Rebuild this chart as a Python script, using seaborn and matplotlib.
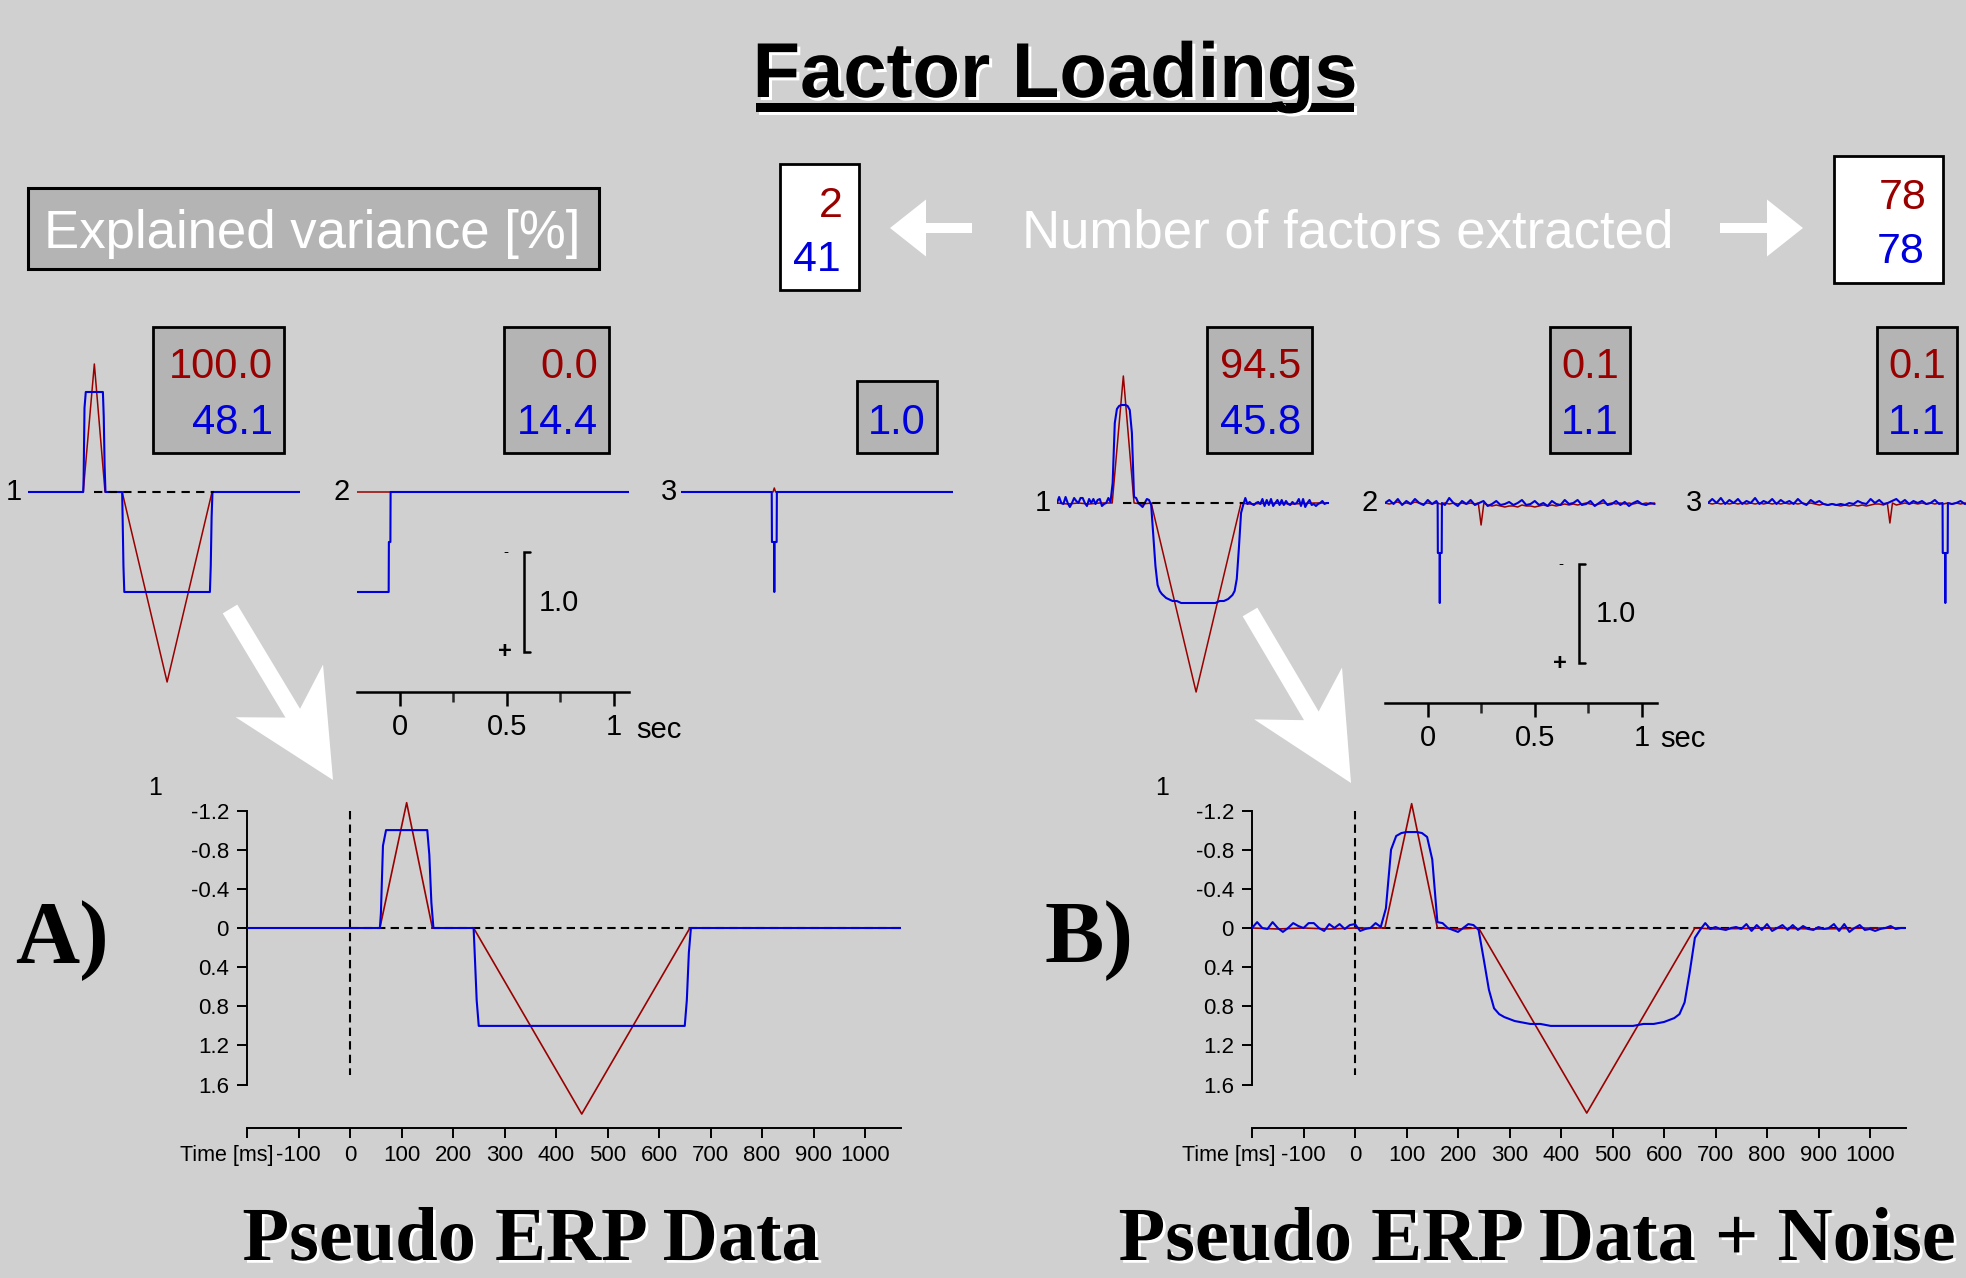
import numpy as np
import matplotlib
matplotlib.use("Agg")
import matplotlib.pyplot as plt
import matplotlib.patheffects as pe
from matplotlib.patches import Rectangle, FancyArrow
import seaborn as sns

sns.set_style("white")
plt.rcParams["font.family"] = ["Liberation Sans", "DejaVu Sans"]

# ---------------------------------------------------------------- data
# A) Pseudo ERP data (time in ms, amplitude; negative plotted upwards)
erp_a_red_t = [-200, 58, 110, 160, 240, 450, 660, 1070]
erp_a_red_v = [0.0, 0.0, -1.28, 0.0, 0.0, 1.90, 0.0, 0.0]
erp_a_blue_t = [-200, 58, 60, 64, 70, 150, 154, 158, 162, 240, 242, 246, 250,
                650, 654, 658, 662, 1070]
erp_a_blue_v = [0.0, 0.0, -0.15, -0.84, -1.0, -1.0, -0.75, -0.26, 0.0, 0.0,
                0.24, 0.74, 1.0, 1.0, 0.74, 0.25, 0.0, 0.0]

# B) Pseudo ERP data + noise
erp_b_time = list(range(-200, 1071, 10))
erp_b_blue = [
    0.00, -0.06, 0.00, 0.01, -0.06, 0.00, 0.04, 0.00, -0.05, -0.02,
    0.00, -0.05, -0.05, 0.00, 0.03, -0.04, 0.00, -0.04, 0.01, -0.03,
    -0.04, 0.03, 0.01, 0.00, -0.05, -0.01, -0.20, -0.80, -0.94, -0.97,
    -0.98, -0.98, -0.98, -0.97, -0.93, -0.70, -0.06, -0.05, 0.00, 0.02,
    0.04, 0.00, -0.04, -0.03, 0.02, 0.32, 0.63, 0.82, 0.88, 0.91,
    0.93, 0.95, 0.96, 0.97, 0.98, 0.98, 0.98, 0.99, 1.00, 1.00,
    1.00, 1.00, 1.00, 1.00, 1.00, 1.00, 1.00, 1.00, 1.00, 1.00,
    1.00, 1.00, 1.00, 1.00, 1.00, 0.99, 0.98, 0.98, 0.98, 0.97,
    0.96, 0.94, 0.92, 0.88, 0.76, 0.45, 0.10, 0.02, -0.05, 0.01,
    -0.01, 0.01, 0.02, 0.00, -0.01, 0.01, -0.04, 0.03, -0.03, 0.02,
    -0.04, 0.03, 0.00, -0.03, 0.02, -0.03, 0.02, -0.02, 0.01, 0.02,
    -0.01, 0.01, 0.00, -0.04, 0.03, -0.04, 0.04, 0.00, -0.03, 0.02,
    0.01, 0.03, 0.01, 0.00, -0.02, 0.01, 0.00, 0.00]
erp_b_red_t = [-200, -150, -100, -50, 0, 58, 110, 160, 200, 240, 450, 660,
               700, 800, 900, 1000, 1070]
erp_b_red_v = [0.0, 0.01, 0.0, 0.01, 0.0, 0.0, -1.27, 0.0, 0.01, 0.0, 1.89,
               0.0, 0.01, 0.0, 0.01, 0.0, 0.0]

# Factor loadings, A panels 2 and 3
fac_a2_blue_t = [-200, -52, -51, -44, -43, 1070]
fac_a2_blue_v = [1.0, 1.0, 0.5, 0.5, 0.0, 0.0]
fac_a2_red_t = [-200, 1070]
fac_a2_red_v = [0.0, 0.0]
fac_a3_blue_t = [-200, 224, 225, 235, 236, 237, 247, 248, 1070]
fac_a3_blue_v = [0.0, 0.0, 0.5, 0.5, 1.0, 0.5, 0.5, 0.0, 0.0]
fac_a3_red_t = [-200, 230, 236, 242, 1070]
fac_a3_red_v = [0.0, 0.0, -0.04, 0.0, 0.0]

# Factor loadings, B panels 2 and 3 (noisy baseline + peaks)
noise_t = list(range(-200, 1061, 20))
fac_b2_blue_noise = [
    0.00, -0.03, 0.01, -0.04, 0.02, -0.02, 0.01, -0.04, 0.00, 0.02,
    -0.03, 0.01, -0.02, 0.00, 0.02, -0.05, 0.00, 0.03, -0.02, 0.01,
    -0.03, 0.02, 0.00, -0.02, 0.03, 0.01, -0.02, 0.02, 0.01, -0.01,
    0.02, 0.00, -0.03, 0.02, 0.01, -0.02, 0.02, 0.00, 0.03, -0.02,
    0.01, 0.02, -0.03, 0.01, 0.00, -0.03, 0.02, 0.01, -0.02, 0.03,
    0.00, -0.03, 0.02, 0.01, -0.02, 0.02, -0.01, 0.03, 0.00, -0.02,
    0.01, 0.02, 0.00, 0.01]
fac_b2_spike_t = [46, 47, 55, 56, 57, 65, 66]
fac_b2_spike_v = [0.0, 0.5, 0.5, 1.0, 0.5, 0.5, 0.0]
fac_b2_red_noise = [
    0.00, 0.01, 0.00, -0.01, 0.01, 0.00, 0.01, -0.01, 0.00, 0.01,
    0.00, 0.01, 0.00, 0.01, 0.00, 0.01, 0.00, 0.01, 0.00, 0.01,
    0.00, 0.01, 0.00, 0.02, 0.02, 0.03, 0.02, 0.03, 0.04, 0.03,
    0.03, 0.04, 0.02, 0.03, 0.03, 0.04, 0.03, 0.02, 0.03, 0.02,
    0.03, 0.02, 0.01, 0.02, 0.01, 0.02, 0.01, 0.00, 0.01, 0.02,
    0.01, 0.00, 0.01, 0.00, 0.01, 0.00, 0.01, 0.00, 0.01, 0.00,
    0.01, 0.00, 0.01, 0.00]
fac_b2_dip_t = [236, 249, 262]
fac_b2_dip_v = [0.0, 0.22, 0.0]
fac_b3_blue_noise = [
    0.00, -0.04, 0.00, -0.05, 0.01, -0.03, 0.00, -0.04, 0.01, -0.02,
    0.00, -0.05, 0.01, -0.02, 0.00, -0.04, 0.01, -0.03, 0.00, -0.02,
    0.01, -0.04, 0.00, 0.02, -0.03, 0.00, -0.02, 0.01, 0.02, 0.01,
    0.02, 0.01, 0.02, 0.00, 0.01, -0.02, 0.00, 0.01, -0.04, 0.00,
    -0.03, 0.01, 0.00, -0.02, -0.04, 0.00, -0.03, 0.01, -0.02, 0.00,
    -0.02, 0.01, 0.00, -0.03, 0.01, 0.00, -0.02, 0.01, 0.00, -0.02,
    0.01, 0.00, -0.01, 0.00]
fac_b3_spike_t = [896, 897, 908, 909, 910, 920, 921]
fac_b3_spike_v = [0.0, 0.5, 0.5, 1.0, 0.5, 0.5, 0.0]
fac_b3_red_noise = [
    0.00, 0.01, 0.00, 0.01, 0.00, 0.01, 0.00, 0.01, 0.00, 0.01,
    0.00, 0.01, 0.00, 0.01, 0.00, 0.01, 0.00, 0.01, 0.00, 0.01,
    0.00, 0.01, 0.00, 0.01, 0.00, 0.01, 0.02, 0.01, 0.02, 0.01,
    0.02, 0.03, 0.02, 0.03, 0.02, 0.03, 0.02, 0.03, 0.02, 0.01,
    0.01, 0.02, 0.00, 0.00, 0.02, 0.01, 0.00, 0.01, 0.00, 0.01,
    0.00, 0.01, 0.00, 0.01, 0.00, 0.01, 0.00, 0.01, 0.00, 0.01,
    0.00, 0.01, 0.00, 0.00]
fac_b3_dip_t = [638, 650, 662]
fac_b3_dip_v = [0.0, 0.20, 0.0]

# explained variance [%] and number of factors
var_a_red = ["100.0", "0.0", ""]
var_a_blue = ["48.1", "14.4", "1.0"]
var_b_red = ["94.5", "0.1", "0.1"]
var_b_blue = ["45.8", "1.1", "1.1"]
nfac_a = ["2", "41"]
nfac_b = ["78", "78"]

erp_yticks = [-1.2, -0.8, -0.4, 0.0, 0.4, 0.8, 1.2, 1.6]
erp_ylabels = ["-1.2", "-0.8", "-0.4", "0", "0.4", "0.8", "1.2", "1.6"]
erp_xticks = list(range(-200, 1001, 100))
erp_xlabels = [""] + [str(v) for v in range(-100, 1001, 100)]
scale_ticks = [0, 500, 1000]
scale_labels = ["0", "0.5", "1"]

# ---------------------------------------------------------------- style
W, H = 1966, 1278
BG = "#d0d0d0"
RED = "#990000"
BLUE = "#0000dd"
BOXGRAY = "#b4b4b4"
TMIN, TMAX = -200, 1070
PXMS = 0.214          # px per ms in factor panels
ERP_PXMS = 0.515      # px per ms in ERP panels


def merge(grid_t, grid_v, ins_t, ins_v):
    lo, hi = min(ins_t), max(ins_t)
    pts = [(t, v) for t, v in zip(grid_t, grid_v) if t < lo or t > hi]
    pts += list(zip(ins_t, ins_v))
    pts.sort()
    return [p[0] for p in pts], [p[1] for p in pts]


fig = plt.figure(figsize=(W / 100, H / 100), dpi=100)
fig.patch.set_facecolor(BG)

ov = fig.add_axes([0, 0, 1, 1])
ov.set_xlim(0, W)
ov.set_ylim(H, 0)
ov.axis("off")


def px_axes(l, r, t, b):
    ax = fig.add_axes([l / W, 1 - b / H, (r - l) / W, (b - t) / H])
    ax.set_facecolor("none")
    return ax


def draw(ax, t, v, color, lw, z):
    sns.lineplot(x=np.asarray(t, float), y=np.asarray(v, float), ax=ax,
                 color=color, linewidth=lw, estimator=None, sort=False,
                 legend=False, zorder=z)


def top_panel(x0, base, red, blue, dashed=False):
    ax = px_axes(x0, x0 + (TMAX - TMIN) * PXMS, base - 150, base + 200)
    draw(ax, red[0], red[1], RED, 1.1, 2)
    draw(ax, blue[0], blue[1], BLUE, 1.5, 3)
    if dashed:
        ax.hlines(0, 110, 668, colors="k", linestyles=(0, (4, 3)), lw=1.5, zorder=5)
    ax.set_xlim(TMIN, TMAX)
    ax.set_ylim(2.0, -1.5)
    for s in ax.spines.values():
        s.set_visible(False)
    ax.set_xticks([])
    ax.set_yticks([])
    ax.set_xlabel("")
    ax.set_ylabel("")
    return ax


def add_scale_axis(ax):
    sp = ax.spines["bottom"]
    sp.set_visible(True)
    sp.set_linewidth(1.8)
    sp.set_color("k")
    ax.set_xticks(scale_ticks)
    ax.set_xticklabels(scale_labels)
    ax.set_xticks([250, 750], minor=True)
    ax.tick_params(axis="x", which="major", bottom=True, direction="out",
                   length=10, width=1.8, labelsize=21, pad=5, colors="k")
    ax.tick_params(axis="x", which="minor", bottom=True, direction="out",
                   length=7.5, width=1.8)


def erp_panel(left, red, blue):
    top, bottom, zero = 796, 1128, 928
    ppu = 97.9
    ax = px_axes(left, left + (TMAX - TMIN) * ERP_PXMS, top, bottom)
    ax.hlines(0, 0, TMAX, colors="k", linestyles=(0, (4, 2.5)), lw=1.5, zorder=1)
    ax.vlines(0, -1.2, 1.5, colors="k", linestyles=(0, (4, 2.5)), lw=1.5, zorder=1)
    draw(ax, red[0], red[1], RED, 1.2, 2)
    draw(ax, blue[0], blue[1], BLUE, 1.5, 3)
    ax.set_xlim(TMIN, TMAX)
    ax.set_ylim((bottom - zero) / ppu, (top - zero) / ppu)
    ax.spines["top"].set_visible(False)
    ax.spines["right"].set_visible(False)
    for k in ("left", "bottom"):
        ax.spines[k].set_visible(True)
        ax.spines[k].set_linewidth(1.4)
        ax.spines[k].set_color("k")
    ax.spines["left"].set_bounds(-1.2, 1.6)
    ax.set_yticks(erp_yticks)
    ax.set_yticklabels(erp_ylabels)
    ax.set_xticks(erp_xticks)
    ax.set_xticklabels(erp_xlabels)
    ax.tick_params(axis="both", direction="out", length=7, width=1.4,
                   labelsize=16, bottom=True, left=True, colors="k")
    ax.tick_params(axis="y", pad=6)
    ax.tick_params(axis="x", pad=5)
    ax.set_xlabel("")
    ax.set_ylabel("")
    return ax


# ---------------------------------------------------------------- header
title = ov.text(1055, 97, "Factor Loadings", ha="center", va="baseline",
                fontsize=56, fontweight="bold", color="k")
title.set_path_effects([pe.withSimplePatchShadow(offset=(2.2, -2.2),
                                                 shadow_rgbFace="white", alpha=1.0)])
ov.add_patch(Rectangle((759, 106), 598, 9, fc="white", ec="none"))
ov.add_patch(Rectangle((756, 103), 598, 9, fc="black", ec="none"))

ov.add_patch(Rectangle((28, 188), 571, 81, fc=BOXGRAY, ec="black", lw=2.2))
ov.text(44, 248, "Explained variance [%]", ha="left", va="baseline",
        fontsize=38, color="white")

ov.add_patch(Rectangle((780, 164), 79, 126, fc="white", ec="black", lw=2))
ov.text(843, 217, nfac_a[0], ha="right", va="baseline", fontsize=31, color=RED)
ov.text(841, 271, nfac_a[1], ha="right", va="baseline", fontsize=31, color=BLUE)
ov.add_patch(Rectangle((1834, 156), 109, 127, fc="white", ec="black", lw=2))
ov.text(1927, 209, nfac_b[0], ha="right", va="baseline", fontsize=31, color=RED)
ov.text(1925, 263, nfac_b[1], ha="right", va="baseline", fontsize=31, color=BLUE)

ov.add_patch(FancyArrow(972, 228, -82, 0, width=10, head_width=57, head_length=36,
                        length_includes_head=True, fc="white", ec="none"))
ov.add_patch(FancyArrow(1720, 228, 83, 0, width=10, head_width=57, head_length=36,
                        length_includes_head=True, fc="white", ec="none"))
ov.text(1022, 248, "Number of factors extracted", ha="left", va="baseline",
        fontsize=38, color="white")

# ---------------------------------------------------------------- variance boxes
boxes_a = [(153, 284, 327), (504, 609, 327), (857, 937, 381)]
boxes_b = [(1207, 1312, 327), (1550, 1630, 327), (1877, 1957, 327)]
for boxes, reds, blues in ((boxes_a, var_a_red, var_a_blue),
                           (boxes_b, var_b_red, var_b_blue)):
    for (l, r, t), rv, bv in zip(boxes, reds, blues):
        ov.add_patch(Rectangle((l, t), r - l, 453 - t, fc=BOXGRAY, ec="black", lw=2))
        if rv:
            ov.text(r - 11, 378, rv, ha="right", va="baseline", fontsize=30, color=RED)
        ov.text(r - 11, 434, bv, ha="right", va="baseline", fontsize=30, color=BLUE)

# ---------------------------------------------------------------- factor panels
b2_blue = merge(noise_t, fac_b2_blue_noise, fac_b2_spike_t, fac_b2_spike_v)
b2_red = merge(noise_t, fac_b2_red_noise, fac_b2_dip_t, fac_b2_dip_v)
b3_blue = merge(noise_t, fac_b3_blue_noise, fac_b3_spike_t, fac_b3_spike_v)
b3_red = merge(noise_t, fac_b3_red_noise, fac_b3_dip_t, fac_b3_dip_v)

top_panel(28, 492, (erp_a_red_t, erp_a_red_v), (erp_a_blue_t, erp_a_blue_v), dashed=True)
axa2 = top_panel(357, 492, (fac_a2_red_t, fac_a2_red_v), (fac_a2_blue_t, fac_a2_blue_v))
add_scale_axis(axa2)
top_panel(681, 492, (fac_a3_red_t, fac_a3_red_v), (fac_a3_blue_t, fac_a3_blue_v))

top_panel(1057, 503, (erp_b_red_t, erp_b_red_v), (erp_b_time, erp_b_blue), dashed=True)
axb2 = top_panel(1385, 503, b2_red, b2_blue)
add_scale_axis(axb2)
top_panel(1708, 503, b3_red, b3_blue)

for x, y, s in ((14, 492, "1"), (342, 492, "2"), (669, 492, "3"),
                (1043, 503, "1"), (1370, 503, "2"), (1694, 503, "3")):
    ov.text(x, y, s, ha="center", va="center", fontsize=21, color="k")

# amplitude scale bars
for bx, yt, yb, tx in ((524, 552, 652, 539), (1579, 564, 663, 1596)):
    ov.plot([bx + 6, bx, bx, bx + 6], [yt, yt, yb, yb], color="k", lw=1.8,
            solid_joinstyle="miter")
    ov.text(bx - 18, yt, "-", ha="center", va="center", fontsize=11, color="k")
    ov.text(bx - 19, yb, "+", ha="center", va="center", fontsize=17,
            fontweight="bold", color="k")
    ov.text(tx, (yt + yb) / 2 + 1, "1.0", ha="left", va="center", fontsize=21, color="k")

ov.text(636, 730, "sec", ha="left", va="center", fontsize=21, color="k")
ov.text(1660, 739, "sec", ha="left", va="center", fontsize=21, color="k")

# big white arrows
for x0, y0, x1, y1 in ((230, 609, 333, 780), (1250, 612, 1351, 783)):
    ov.add_patch(FancyArrow(x0, y0, x1 - x0, y1 - y0, width=17, head_width=102,
                            head_length=104, overhang=0.25,
                            length_includes_head=True, fc="white", ec="none"))

# ---------------------------------------------------------------- ERP panels
erp_panel(247, (erp_a_red_t, erp_a_red_v), (erp_a_blue_t, erp_a_blue_v))
erp_panel(1252, (erp_b_red_t, erp_b_red_v), (erp_b_time, erp_b_blue))

for x in (155, 1162):
    ov.text(x, 788, "1", ha="center", va="center", fontsize=18, color="k")
for x in (273, 1276):
    ov.text(x, 1145, "Time [ms]", ha="right", va="top", fontsize=15.5, color="k")

serif = ["Liberation Serif", "DejaVu Serif"]
ov.text(15, 962, "A)", ha="left", va="baseline", fontsize=64, fontweight="bold",
        family=serif, color="k")
ov.text(1044, 962, "B)", ha="left", va="baseline", fontsize=64, fontweight="bold",
        family=serif, color="k")

shadow = [pe.withSimplePatchShadow(offset=(2.0, -2.0), shadow_rgbFace="white", alpha=1.0)]
for x, s in ((531, "Pseudo ERP Data"), (1537, "Pseudo ERP Data + Noise")):
    t = ov.text(x, 1276, s, ha="center", va="bottom", fontsize=55,
                fontweight="bold", family=serif, color="k")
    t.set_path_effects(shadow)

fig.savefig("out.png", dpi=100, facecolor=BG)
